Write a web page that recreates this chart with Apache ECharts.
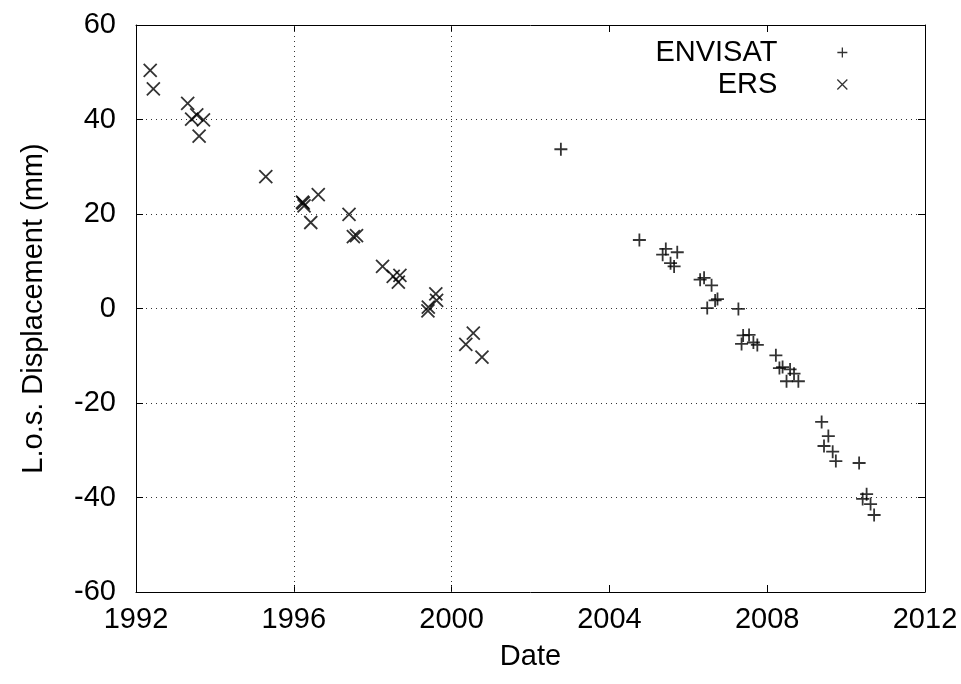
<!DOCTYPE html>
<html><head><meta charset="utf-8">
<script src="https://cdn.jsdelivr.net/npm/echarts@6/dist/echarts.min.js"></script>
<style>html,body{margin:0;padding:0;background:#fff}#c{width:961px;height:684px}</style>
</head><body><div id="c"></div>
<script>
// ERS acquisitions (decimal year, L.o.s. displacement mm)
const ersYears = [1992.36,1992.44,1993.31,1993.41,1993.54,1993.71,1993.60,1995.29,1996.22,1996.26,1996.24,1996.62,1996.43,1997.40,1997.51,1997.59,1998.25,1998.52,1998.69,1998.65,1999.41,1999.40,1999.60,1999.62,2000.36,2000.55,2000.77];
const ersValues = [50.4,46.5,43.4,40.1,41.0,39.9,36.5,27.9,22.5,21.7,22.3,24.1,18.2,19.9,15.2,15.4,8.9,6.8,7.0,5.6,0.3,-0.5,3.1,1.7,-7.6,-5.2,-10.3];
// ENVISAT acquisitions
const envYears = [2002.77,2004.76,2005.35,2005.43,2005.72,2005.55,2005.64,2006.30,2006.40,2006.59,2006.68,2006.74,2006.48,2007.27,2007.39,2007.54,2007.35,2007.65,2007.75,2008.22,2008.31,2008.39,2008.58,2008.68,2008.49,2008.79,2009.38,2009.55,2009.44,2009.66,2009.74,2010.33,2010.52,2010.42,2010.62,2010.71];
const envValues = [33.7,14.5,11.4,12.6,11.9,9.6,8.9,6.1,6.5,4.9,1.7,2.0,0.1,-0.1,-5.7,-5.6,-7.5,-7.2,-7.7,-9.9,-12.6,-12.4,-12.9,-13.8,-15.4,-15.4,-24.0,-27.0,-29.1,-30.3,-32.3,-32.7,-39.3,-40.3,-41.4,-43.7];
const seriesNames = ['ENVISAT','ERS'];
const xTitle = 'Date';
const yTitle = 'L.o.s. Displacement (mm)';
const verticalGridYears = [1996, 2000];

const FONT = 'Liberation Sans, Arial, Helvetica, sans-serif';
const PLUS = 'path://M0,5L10,5M5,0L5,10';
const CROSS = 'path://M0,0L10,10M0,10L10,0';
const markStyle = {color:'rgba(0,0,0,0)', borderColor:'#000', borderWidth:1.8};
const legendMarkStyle = {color:'rgba(0,0,0,0)', borderColor:'#000', borderWidth:1.3};
const gridLine = {color:'#333', width:1, type:[1,4]};

const chart = echarts.init(document.getElementById('c'), null, {renderer:'canvas'});
const zip = (a,b)=>a.map((v,i)=>[v,b[i]]);
chart.setOption({
  animation:false,
  backgroundColor:'#fff',
  grid:{left:136, right:36, top:25, bottom:92},
  legend:{
    orient:'vertical', right:108, top:33, align:'right', itemGap:3,
    itemWidth:10, itemHeight:10, selectedMode:false,
    formatter: n => '{a|' + n + '}',
    textStyle:{fontFamily:FONT, fontSize:29, color:'#000',
      rich:{a:{fontFamily:FONT, fontSize:29, color:'#000', width:129, align:'right', lineHeight:33, padding:[0,55,0,0]}}},
    data:[
      {name:seriesNames[0], icon:PLUS, itemStyle:legendMarkStyle},
      {name:seriesNames[1], icon:CROSS, itemStyle:legendMarkStyle}
    ]
  },
  xAxis:[{
    type:'value', min:1992, max:2012, interval:4,
    name:xTitle, nameLocation:'middle', nameGap:50,
    nameTextStyle:{fontFamily:FONT, fontSize:29, color:'#000'},
    axisLine:{show:true, onZero:false, lineStyle:{color:'#000', width:1}},
    axisTick:{show:true, inside:true, length:7, lineStyle:{color:'#000'}},
    axisLabel:{fontFamily:FONT, fontSize:29, color:'#000', margin:13, formatter: v => String(v)},
    splitLine:{show:false}
  },{
    type:'value', min:1992, max:2012, interval:4, position:'top',
    axisLine:{show:true, onZero:false, lineStyle:{color:'#000', width:1}},
    axisTick:{show:true, inside:true, length:7, lineStyle:{color:'#000'}},
    axisLabel:{show:false}, splitLine:{show:false}
  }],
  yAxis:[{
    type:'value', min:-60, max:60, interval:20,
    name:yTitle, nameLocation:'middle', nameGap:88, nameRotate:90,
    nameTextStyle:{fontFamily:FONT, fontSize:29, color:'#000'},
    axisLine:{show:true, onZero:false, lineStyle:{color:'#000', width:1}},
    axisTick:{show:true, inside:true, length:7, lineStyle:{color:'#000'}},
    axisLabel:{fontFamily:FONT, fontSize:29, color:'#000', margin:20},
    splitLine:{show:true, lineStyle:gridLine}
  },{
    type:'value', min:-60, max:60, interval:20, position:'right',
    axisLine:{show:true, onZero:false, lineStyle:{color:'#000', width:1}},
    axisTick:{show:true, inside:true, length:7, lineStyle:{color:'#000'}},
    axisLabel:{show:false}, splitLine:{show:false}
  }],
  series:[{
    name:seriesNames[0], type:'scatter', symbol:PLUS, symbolSize:13,
    itemStyle:markStyle, data:zip(envYears, envValues), z:3,
    markLine:{silent:true, symbol:'none', label:{show:false}, lineStyle:gridLine,
      data: verticalGridYears.map(y=>({xAxis:y}))}
  },{
    name:seriesNames[1], type:'scatter', symbol:CROSS, symbolSize:13,
    itemStyle:markStyle, data:zip(ersYears, ersValues), z:3
  }]
});
</script></body></html>
